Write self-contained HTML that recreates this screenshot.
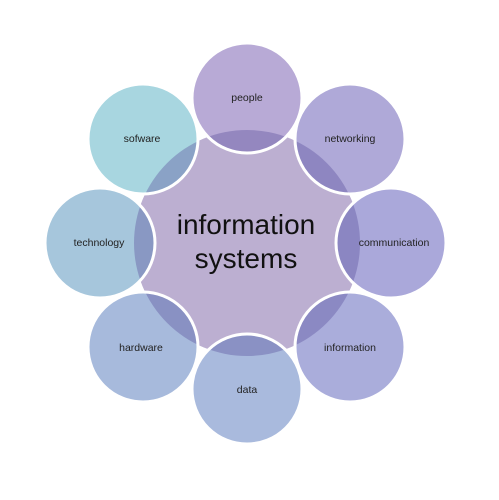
<!DOCTYPE html>
<html><head><style>body{margin:0;background:#fff}svg{display:block}</style></head>
<body>
<svg width="499" height="500" viewBox="0 0 499 500" xmlns="http://www.w3.org/2000/svg" font-family="Liberation Sans, sans-serif">
<defs>
<mask id="m">
<rect width="499" height="500" fill="#fff"/>
<g fill="#000">
<circle cx="247" cy="98" r="56"/>
<circle cx="350" cy="139" r="56"/>
<circle cx="391" cy="243" r="56"/>
<circle cx="350" cy="347" r="56"/>
<circle cx="247" cy="389" r="56"/>
<circle cx="143" cy="347" r="56"/>
<circle cx="100" cy="243" r="56"/>
<circle cx="143" cy="139" r="56"/>
</g>
</mask>
</defs>
<g>
<circle cx="247" cy="98" r="55" fill="#b8aad6"/>
<circle cx="350" cy="139" r="55" fill="#afa9d8"/>
<circle cx="391" cy="243" r="55" fill="#aaa8da"/>
<circle cx="350" cy="347" r="55" fill="#aaaddb"/>
<circle cx="247" cy="389" r="55" fill="#a9badd"/>
<circle cx="143" cy="347" r="55" fill="#a7badc"/>
<circle cx="100" cy="243" r="55" fill="#a6c6dc"/>
<circle cx="143" cy="139" r="55" fill="#a8d6e0"/>
</g>
<circle cx="247" cy="243" r="113" fill="#5a4f9a" fill-opacity="0.38"/>
<circle cx="247" cy="243" r="113" fill="#bcafd1" mask="url(#m)"/>
<g stroke="#fff" stroke-width="3" fill="none">
<circle cx="247" cy="98" r="55"/>
<circle cx="350" cy="139" r="55"/>
<circle cx="391" cy="243" r="55"/>
<circle cx="350" cy="347" r="55"/>
<circle cx="247" cy="389" r="55"/>
<circle cx="143" cy="347" r="55"/>
<circle cx="100" cy="243" r="55"/>
<circle cx="143" cy="139" r="55"/>
</g>
<g font-size="10.5" fill="#222" text-anchor="middle">
<text x="247" y="101">people</text>
<text x="350" y="142">networking</text>
<text x="394" y="246">communication</text>
<text x="350" y="351">information</text>
<text x="247" y="393">data</text>
<text x="141" y="351">hardware</text>
<text x="99" y="246">technology</text>
<text x="142" y="142">sofware</text>
</g>
<g font-size="28" fill="#111" text-anchor="middle">
<text x="246" y="234">information</text>
<text x="246" y="268">systems</text>
</g>
</svg>
</body></html>
